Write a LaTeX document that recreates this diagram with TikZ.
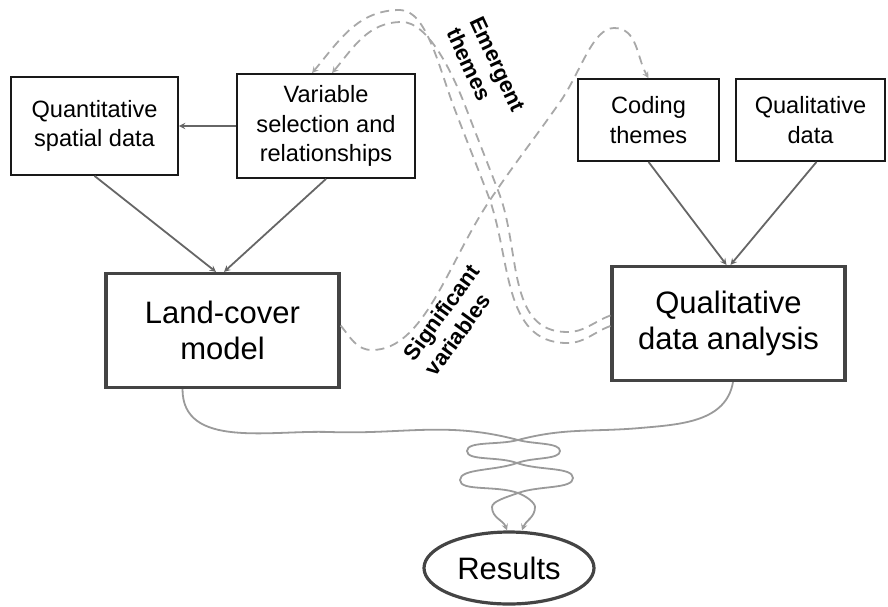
\documentclass[tikz,border=0pt]{standalone}
\usepackage{fontspec}
\setmainfont{Liberation Sans}
\usetikzlibrary{positioning,shapes.geometric}
\definecolor{edgegray}{HTML}{666666}
\definecolor{dashgray}{HTML}{A8A8A8}
\definecolor{twistgray}{HTML}{9A9A9A}
\definecolor{framegray}{HTML}{444444}

\begin{document}
\begin{tikzpicture}[
    x=1pt, y=-1pt,
    source/.style={
      rectangle,
      draw=black!90,
      line width=1.8pt,
      align=center,
      inner sep=0pt,
      font=\fontsize{23.6pt}{29.5pt}\selectfont
    },
    model/.style={
      rectangle,
      draw=framegray,
      line width=3.2pt,
      align=center,
      inner sep=0pt,
      minimum width=233pt,
      minimum height=114pt,
      font=\fontsize{31pt}{36pt}\selectfont
    },
    outcome/.style={
      ellipse,
      draw=framegray,
      line width=3.2pt,
      inner sep=0pt,
      minimum width=170pt,
      minimum height=72pt,
      font=\fontsize{31pt}{36pt}\selectfont
    },
    arrow/.style={
      ->,
      >=stealth,
      draw=edgegray,
      line width=1.8pt
    },
    feedback/.style={
      ->,
      >=stealth,
      draw=dashgray,
      line width=1.8pt,
      dash pattern=on 9pt off 6pt
    },
    merge/.style={
      ->,
      >=stealth,
      draw=twistgray,
      line width=1.8pt
    },
    theme/.style={
      font=\bfseries\fontsize{22pt}{26pt}\selectfont,
      align=left,
      inner sep=0pt
    }
  ]

    \useasboundingbox (0,0) rectangle (888,606);

    % Left side: quantitative strand
    \node (landcover) [model] at (222.5,330.5) {Land-cover\\model};
    \node (quant) [source, minimum width=167pt, minimum height=98pt] at (94.5,126) {Quantitative\\spatial data};
    \node (varsel) [source, minimum width=178pt, minimum height=104pt, right of=quant, node distance=231.5pt] {Variable\\selection and\\relationships};

    % Right side: qualitative strand
    \node (qda) [model] at (728.5,323.5) {Qualitative\\data analysis};
    \node (coding) [source, minimum width=141pt, minimum height=82pt] at (648.5,120) {Coding\\themes};
    \node (qualdata) [source, minimum width=149pt, minimum height=82pt, right of=coding, node distance=162pt] {Qualitative\\data};

    % Bottom: joint outcome
    \node (results) [outcome] at (509,568) {Results};

    % Exchange labels
    \node (emergent) [theme, rotate=-65] at (486,70) {Emergent\\themes};
    \node (significant) [theme, rotate=54] at (452,320) {Significant\\variables};

    % Inputs to the two models
    \draw [arrow] (varsel) -- (quant);
    \draw [arrow] (quant.south) -- ([xshift=-6.5pt]landcover.north);
    \draw [arrow] (varsel.south) -- ([xshift=1.5pt]landcover.north);
    \draw [arrow] (coding.south) -- ([xshift=-2pt]qda.north);
    \draw [arrow] ([xshift=6pt]qualdata.south) -- ([xshift=2pt]qda.north);

    % Significant variables feed the coding themes
    \draw [feedback] ([yshift=5pt]landcover.east) to[out=-50,in=180] (372,350)
      to[out=0,in=-124,out looseness=0.7] (490,200) to[out=56,in=-125] (560,102)
      to[out=55,in=180,in looseness=0.6] (614,28)
      to[out=0,in=120] (coding.north);

    % Emergent themes feed the variable selection
    \draw [feedback] ([yshift=-2.5pt]qda.west) to[out=200,in=0] (567,343)
      to[out=180,in=-69] (488,195) to[out=111,in=-69] (455,110)
      to[out=111,in=0,in looseness=0.6] (400,10)
      to[out=180,in=50] ([xshift=-14pt]varsel.north);
    \draw [feedback] ([yshift=8pt]qda.west) to[out=200,in=0] (567,332)
      to[out=180,in=-69] (499,193) to[out=111,in=-69] (466,108)
      to[out=111,in=0,in looseness=0.6] (402,22)
      to[out=180,in=50] ([xshift=6pt]varsel.north);

    % Twisted strands into the results
    \draw [merge] ([xshift=-40pt]landcover.south) to[out=-90,in=178] (330,432)
      to[out=-2,in=165] (518,440)
      to[out=-15,in=90,in looseness=0.5] (560,451)
      to[out=-90,in=20,out looseness=0.5] (517,463)
      to[out=200,in=90,in looseness=0.5] (460,480)
      to[out=-90,in=160,out looseness=0.5] (518,493)
      to[out=-20,in=90,in looseness=0.5] (535,507)
      to[out=-90,in=70] ([xshift=13pt]results.north);
    \draw [merge] ([xshift=4.5pt]qda.south) to[out=-100,in=5] (640,428)
      to[out=185,in=15] (518,440)
      to[out=195,in=90,in looseness=0.5] (467,451)
      to[out=-90,in=160,out looseness=0.5] (517,463)
      to[out=-20,in=90,in looseness=0.5] (573,478)
      to[out=-90,in=20,out looseness=0.5] (518,493)
      to[out=200,in=90,in looseness=0.5] (492,507)
      to[out=-90,in=110] ([xshift=-2pt]results.north);

  \end{tikzpicture}
\end{document}
